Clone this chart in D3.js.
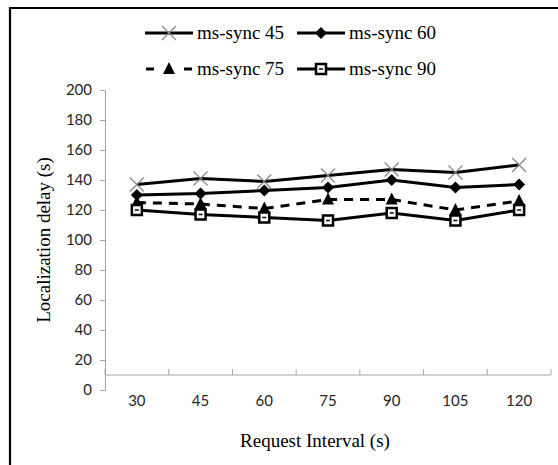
<!DOCTYPE html>
<html>
<head>
<meta charset="utf-8">
<script src="https://cdn.jsdelivr.net/npm/d3@7"></script>
<style>
  body { margin: 0; background: #fff; }
  svg { display: block; }
  .serif { font-family: "Liberation Serif", "Times New Roman", Tinos, "Noto Serif", "DejaVu Serif", FreeSerif, "Nimbus Roman", serif; }
</style>
</head>
<body>
<svg id="chart" width="558" height="465"></svg>
<script>
// request intervals (x categories)
var intervals = ["30", "45", "60", "75", "90", "105", "120"];
var yTicks = [0, 20, 40, 60, 80, 100, 120, 140, 160, 180, 200];

// localization delay per series
var sync45 = [137, 141, 139, 143, 147, 145, 150];
var sync60 = [130, 131, 133, 135, 140, 135, 137];
var sync75 = [125, 124, 121, 127, 127, 120, 126];
var sync90 = [120, 117, 115, 113, 118, 113, 120];

var seriesNames = ["ms-sync 45", "ms-sync 60", "ms-sync 75", "ms-sync 90"];
var seriesValues = [sync45, sync60, sync75, sync90];
var markerTypes = ["cross", "diamond", "triangle", "square"];

var svg = d3.select("#chart");
var margin = {top: 90, right: 7, bottom: 75, left: 105};
var width = 558 - margin.left - margin.right,
    height = 465 - margin.top - margin.bottom;

// outer frame (only left and top edges show)
svg.append("path")
    .attr("d", "M10,465 V8 H558")
    .style("fill", "none")
    .style("stroke", "#000")
    .style("stroke-width", 2.2);

var g = svg.append("g")
    .attr("transform", "translate(" + margin.left + "," + margin.top + ")");

var x = d3.scaleBand().domain(intervals).range([0, width]);
var y = d3.scaleLinear().domain([0, 200]).range([height, 0]);

/** y axis: gray line with small outward ticks */
var yAxis = g.append("g")
    .call(d3.axisLeft(y).tickValues(yTicks).tickSize(5).tickPadding(8));
yAxis.selectAll("path, line").style("stroke", "#a6a6a6");
yAxis.selectAll("text")
    .style("font-family", "Lato, 'Open Sans', sans-serif")
    .style("font-size", "15px")
    .style("fill", "#262626");

/** x axis sits at value 10, ticks between categories pointing up */
var crossY = y(10);
g.append("line")
    .attr("x1", 0).attr("x2", width)
    .attr("y1", crossY).attr("y2", crossY)
    .style("stroke", "#a6a6a6");
g.selectAll(".xtick")
    .data(d3.range(intervals.length + 1))
    .enter().append("line")
    .attr("class", "xtick")
    .attr("x1", function(i) { return i * x.step(); })
    .attr("x2", function(i) { return i * x.step(); })
    .attr("y1", crossY).attr("y2", crossY - 6)
    .style("stroke", "#a6a6a6");
g.selectAll(".xlabel")
    .data(intervals)
    .enter().append("text")
    .attr("class", "xlabel")
    .attr("x", function(d) { return x(d) + x.bandwidth() / 2; })
    .attr("y", height + 16)
    .style("text-anchor", "middle")
    .style("font-family", "Lato, 'Open Sans', sans-serif")
    .style("font-size", "15px")
    .style("fill", "#262626")
    .text(function(d) { return d; });

// axis titles
svg.append("text")
    .attr("class", "serif")
    .attr("transform", "translate(50," + (margin.top + height / 2) + ") rotate(-90)")
    .style("text-anchor", "middle")
    .style("font-size", "19px")
    .text("Localization delay (s)");
svg.append("text")
    .attr("class", "serif")
    .attr("x", 315).attr("y", 447)
    .style("text-anchor", "middle")
    .style("font-size", "19px")
    .text("Request Interval (s)");

/** draws one marker of given type at (0,0) inside sel */
function drawMarker(sel, type) {
  if (type === "cross") {
    sel.append("path").attr("d", "M-7,-7L7,7M-7,7L7,-7")
      .style("stroke", "#888").style("stroke-width", 1.2).style("fill", "none");
  } else if (type === "diamond") {
    sel.append("path").attr("d", "M0,-6L6,0L0,6L-6,0Z").style("fill", "#000");
  } else if (type === "triangle") {
    sel.append("path").attr("d", "M0,-7L6,5L-6,5Z").style("fill", "#000");
  } else {
    sel.append("rect").attr("x", -5).attr("y", -5).attr("width", 10).attr("height", 10)
      .style("fill", "#fff").style("stroke", "#000").style("stroke-width", 2.5);
    sel.append("line").attr("x1", -2).attr("x2", 2).attr("y1", 0).attr("y2", 0)
      .style("stroke", "#000").style("stroke-width", 1.5);
  }
}

var line = d3.line()
    .x(function(d, i) { return x(intervals[i]) + x.bandwidth() / 2; })
    .y(function(d) { return y(d); });

seriesValues.forEach(function(vals, s) {
  g.append("path")
    .datum(vals)
    .attr("d", line)
    .style("fill", "none")
    .style("stroke", "#000")
    .style("stroke-width", 3)
    .style("stroke-dasharray", markerTypes[s] === "triangle" ? "9,7" : null);
  vals.forEach(function(v, i) {
    var m = g.append("g")
      .attr("transform", "translate(" + (x(intervals[i]) + x.bandwidth() / 2) + "," + y(v) + ")");
    drawMarker(m, markerTypes[s]);
  });
});

/** legend, two rows of two entries */
var legendPos = [[145, 33], [297, 33], [145, 69], [297, 69]];
seriesNames.forEach(function(name, s) {
  var lg = svg.append("g")
    .attr("transform", "translate(" + legendPos[s][0] + "," + legendPos[s][1] + ")");
  if (markerTypes[s] === "triangle") {
    lg.append("line").attr("x1", 1).attr("x2", 9).attr("y1", 0).attr("y2", 0)
      .style("stroke", "#000").style("stroke-width", 3);
    lg.append("line").attr("x1", 39).attr("x2", 47).attr("y1", 0).attr("y2", 0)
      .style("stroke", "#000").style("stroke-width", 3);
  } else {
    lg.append("line").attr("x1", 0).attr("x2", 48).attr("y1", 0).attr("y2", 0)
      .style("stroke", "#000").style("stroke-width", 3);
  }
  drawMarker(lg.append("g").attr("transform", "translate(24,0)"), markerTypes[s]);
  lg.append("text")
    .attr("class", "serif")
    .attr("x", 52).attr("y", 6)
    .style("font-size", "19px")
    .text(name);
});
</script>
</body>
</html>
